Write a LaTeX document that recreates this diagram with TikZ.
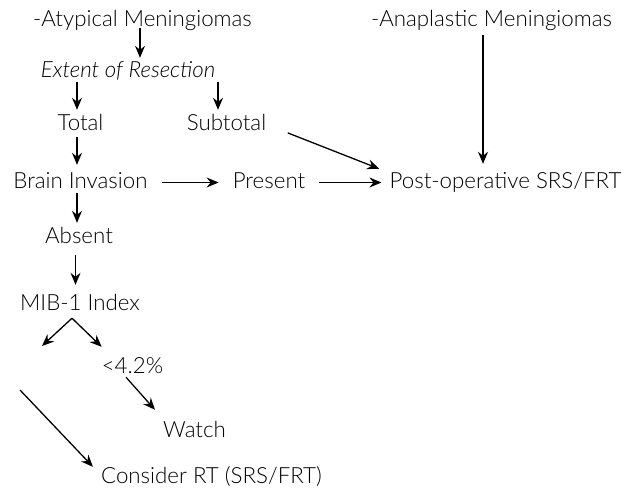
\documentclass[tikz,border=0pt]{standalone}
\usepackage{fontspec}
\setmainfont{Lato Light}[ItalicFont={Lato Light Italic}]
\usetikzlibrary{arrows.meta}
\begin{document}
\begin{tikzpicture}[x=1pt,y=-1pt,
  lbl/.style={anchor=base,inner sep=0pt,text height=15pt,text depth=4pt,font=\fontsize{22.3}{26}\selectfont},
  arr/.style={line width=1.3pt,-{Stealth[length=12pt,width=10pt,inset=4pt]}}]
\useasboundingbox (0,0) rectangle (636,496);
\node[lbl] (atyp) at (142.5,26) {-Atypical Meningiomas};
\node[lbl] (ext) at (128,77) {\itshape Extent of Resection};
\node[lbl] (total) at (80.5,130) {Total};
\node[lbl] (subtotal) at (226.5,130) {Subtotal};
\node[lbl] (brain) at (80.5,188) {Brain Invasion};
\node[lbl] (present) at (269,188) {Present};
\node[lbl] (post) at (505.5,188) {Post-operative SRS/FRT};
\node[lbl] (ana) at (491.5,26) {-Anaplastic Meningiomas};
\node[lbl] (absent) at (79,243) {Absent};
\node[lbl] (mib) at (80,310) {MIB-1 Index};
\node[lbl] (lt) at (132.5,373) {<4.2\%};
\node[lbl] (watch) at (194.5,437) {Watch};
\node[lbl] (consider) at (211.5,483) {Consider RT (SRS/FRT)};
\coordinate (lowend) at (42,346);
\coordinate (longstart) at (20,390);

\draw[arr,shorten <=-2pt,shorten >=4pt] ([xshift=-2.5pt]atyp.south) -- ([xshift=-2.5pt]atyp.south |- ext.north);
\draw[arr,shorten <=1pt,shorten >=5pt] ([xshift=-3.5pt]total.north |- ext.south) -- ([xshift=-3.5pt]total.north);
\draw[arr,shorten <=1pt,shorten >=5pt] ([xshift=-8.5pt]subtotal.north |- ext.south) -- ([xshift=-8.5pt]subtotal.north);
\draw[arr,shorten <=3pt,shorten >=8pt] ([xshift=-3.5pt]total.south) -- ([xshift=-3.5pt]brain.north);
\draw[arr,shorten <=14pt,shorten >=14pt] (brain.east) -- (present.west);
\draw[arr,shorten <=14pt,shorten >=8pt] (present.east) -- (post.west);
\draw[arr,shorten <=23pt,shorten >=11pt] (subtotal.east) -- (post.north west);
\draw[arr,shorten <=5pt,shorten >=9pt] ([xshift=-8.5pt]ana.south) -- ([xshift=-8.5pt]ana.south |- post.north);
\draw[arr,shorten <=1pt,shorten >=5pt] ([xshift=-3.5pt]brain.south) -- ([xshift=-3.5pt]brain.south |- absent.north);
\draw[arr,shorten <=8pt,shorten >=10pt] ([xshift=-3.5pt]absent.south) -- ([xshift=-3.5pt]absent.south |- mib.north);
\draw[arr] ([xshift=-8pt,yshift=-4pt]mib.south) -- (lowend);
\draw[arr] ([xshift=-8pt,yshift=-4pt]mib.south) -- ([yshift=11pt]lt.north west);
\draw[arr] ([xshift=-6.5pt]lt.south) -- ([xshift=-8pt,yshift=12pt]watch.north west);
\draw[arr] (longstart) -- ([xshift=-8pt,yshift=1pt]consider.north west);
\end{tikzpicture}
\end{document}
